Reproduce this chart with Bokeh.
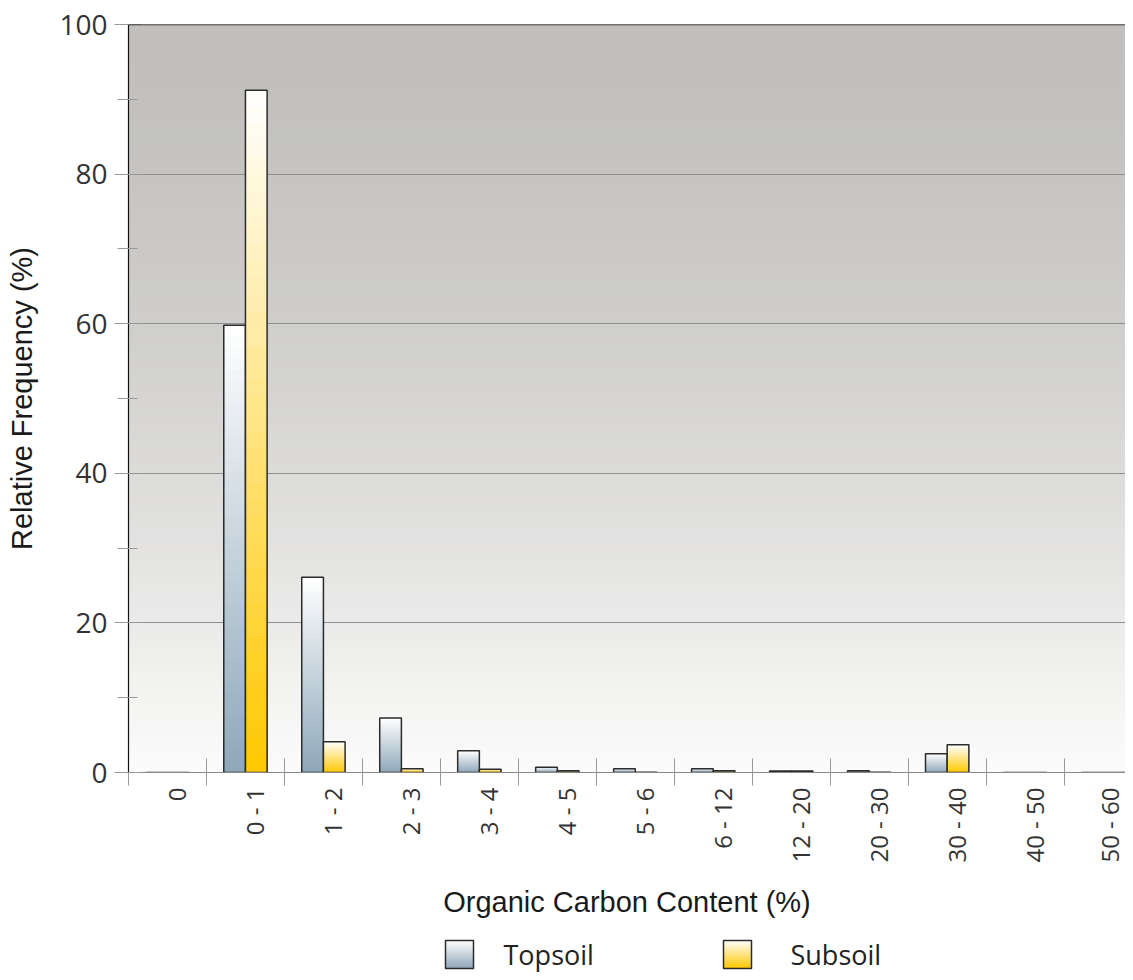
import numpy as np
from bokeh.plotting import figure
from bokeh.layouts import column
from bokeh.models import Range1d, FixedTicker, Span
from bokeh.core.properties import value
from bokeh.embed import file_html
from bokeh.resources import INLINE

# ---- data ----
categories = ["0", "0 - 1", "1 - 2", "2 - 3", "3 - 4", "4 - 5", "5 - 6",
              "6 - 12", "12 - 20", "20 - 30", "30 - 40", "40 - 50", "50 - 60"]
topsoil = [0.0, 59.8, 26.1, 7.3, 2.9, 0.7, 0.5, 0.5, 0.2, 0.25, 2.5, 0.0, 0.0]
subsoil = [0.0, 91.2, 4.1, 0.5, 0.45, 0.25, 0.05, 0.25, 0.2, 0.05, 3.7, 0.0, 0.0]
series_names = ["Topsoil", "Subsoil"]
y_ticks = [0, 20, 40, 60, 80, 100]
y_minor = [10, 30, 50, 70, 90]

# ---- styling / layout constants ----
TOP_BASE = "#8ea7b9"
SUB_BASE = "#ffc800"
WHITE = "#ffffff"
BG_TOP = "#c0bfbd"
BG_BOT = "#fcfcfc"
OUTLINE = "#2b2b2b"
FIG_W = 1125
MAIN_H = 920
LEG_H = 52
LEFT = 128
TOP = 24
FRAME_BOTTOM = 772
CAT_PX = 77.97
BAR_W = 0.278
LABEL_SHIFT = 0.115
TICK_FONT = "Open Sans"
TITLE_FONT = "Liberation Sans"
LEG_SWATCH_X = [445, 723]
LEG_TEXT_X = [503, 790]
LEG_SWATCH_W = 28
LEG_SWATCH_BOTTOM = 4
LEG_TEXT_Y = 18


def hex2rgb(h):
    h = h.lstrip("#")
    return tuple(int(h[i:i + 2], 16) for i in (0, 2, 4))


def mix(c1, c2, t):
    a, b = hex2rgb(c1), hex2rgb(c2)
    return "#%02x%02x%02x" % tuple(int(round(x + (y - x) * t)) for x, y in zip(a, b))


n = len(categories)
centers = np.arange(n) + 0.5

p = figure(width=FIG_W, height=MAIN_H,
           x_range=Range1d(0, (FIG_W - LEFT) / CAT_PX), y_range=Range1d(0, 100),
           output_backend="svg", toolbar_location=None,
           min_border_left=LEFT, min_border_right=0,
           min_border_top=TOP, min_border_bottom=MAIN_H - FRAME_BOTTOM)
p.outline_line_color = None
p.background_fill_color = WHITE
p.border_fill_color = WHITE

# ---- background gradient (layered bands) ----
NB = 90
for j in range(NB):
    lo = 100.0 * j / NB
    t_from_top = 1.0 - (j + 0.5) / NB
    col = mix(BG_TOP, BG_BOT, t_from_top ** 1.5)
    p.quad(left=0, right=n, bottom=lo, top=100, fill_color=col,
           line_color=None, level="image")

# ---- gradient bars ----
NL = 40


def gradient_quads(fig, left, right, bottom, top, base, nl):
    left = np.asarray(left, dtype=float)
    right = np.asarray(right, dtype=float)
    bottom = np.asarray(bottom, dtype=float)
    top = np.asarray(top, dtype=float)
    for i in range(nl):
        frac = (nl - i) / nl
        t = (nl - i - 0.5) / nl
        fig.quad(left=left, right=right, bottom=bottom,
                 top=bottom + (top - bottom) * frac,
                 fill_color=mix(base, WHITE, t), line_color=None)
    fig.quad(left=left, right=right, bottom=bottom, top=top,
             fill_color=None, line_color=OUTLINE, line_width=1.5)


zeros = np.zeros(n)
gradient_quads(p, centers - BAR_W, centers, zeros, topsoil, TOP_BASE, NL)
gradient_quads(p, centers, centers + BAR_W, zeros, subsoil, SUB_BASE, NL)

p.add_layout(Span(location=100, dimension="width", line_color="#222222",
                  line_width=1.5))

# ---- grid ----
p.xgrid.visible = False
p.ygrid.ticker = FixedTicker(ticks=y_ticks)
p.ygrid.grid_line_color = "#8f8f8f"
p.ygrid.grid_line_width = 1

# ---- y axis ----
ya = p.yaxis[0]
ya.ticker = FixedTicker(ticks=y_ticks, minor_ticks=y_minor)
ya.axis_line_color = "#111111"
ya.axis_line_width = 1.2
ya.major_tick_line_color = "#999999"
ya.major_tick_out = 14
ya.major_tick_in = 13
ya.minor_tick_line_color = "#999999"
ya.minor_tick_out = 11
ya.minor_tick_in = 9
ya.major_label_standoff = 7
ya.major_label_text_font = TICK_FONT
ya.major_label_text_font_size = "28px"
ya.major_label_text_color = "#333333"
ya.axis_label = "Relative Frequency (%)"
ya.axis_label_text_font = TITLE_FONT
ya.axis_label_text_font_style = "normal"
ya.axis_label_text_font_size = "29px"
ya.axis_label_text_color = "#1a1a1a"
ya.axis_label_standoff = 18

# ---- x axis ----
label_pos = [float(c + LABEL_SHIFT) for c in centers]
xa = p.xaxis[0]
xa.ticker = FixedTicker(ticks=label_pos, minor_ticks=list(range(n + 1)))
xa.major_label_overrides = {pos: cat for pos, cat in zip(label_pos, categories)}
xa.major_label_orientation = np.pi / 2
xa.axis_line_color = "#888888"
xa.major_tick_line_color = None
xa.major_tick_out = 13
xa.major_tick_in = 0
xa.minor_tick_line_color = "#999999"
xa.minor_tick_out = 13
xa.minor_tick_in = 14
xa.major_label_standoff = 2
xa.major_label_text_font = TICK_FONT
xa.major_label_text_font_size = "24px"
xa.major_label_text_color = "#333333"
xa.axis_label = "Organic Carbon Content (%)"
xa.axis_label_text_font = TITLE_FONT
xa.axis_label_text_font_style = "normal"
xa.axis_label_text_font_size = "29px"
xa.axis_label_text_color = "#1a1a1a"
xa.axis_label_standoff = 20

# ---- legend strip (separate figure below, gradient swatches) ----
# its frame is aligned with the main frame, so x range starts at LEFT (page px)
lg = figure(width=FIG_W, height=LEG_H, x_range=Range1d(LEFT, FIG_W),
            y_range=Range1d(0, LEG_H), output_backend="svg",
            toolbar_location=None, x_axis_location=None, y_axis_location=None,
            min_border_left=LEFT, min_border_right=0, min_border_top=0,
            min_border_bottom=0)
lg.outline_line_color = None
lg.xgrid.visible = False
lg.ygrid.visible = False
lg.background_fill_color = WHITE
lg.border_fill_color = WHITE
for sx, base in zip(LEG_SWATCH_X, [TOP_BASE, SUB_BASE]):
    gradient_quads(lg, [sx], [sx + LEG_SWATCH_W], [LEG_SWATCH_BOTTOM],
                   [LEG_SWATCH_BOTTOM + LEG_SWATCH_W], base, 20)
lg.text(x=LEG_TEXT_X, y=[LEG_TEXT_Y] * 2, text=series_names,
        text_font=value(TICK_FONT), text_font_size="27px",
        text_color="#222222", text_baseline="middle", text_align="left")

layout = column(p, lg, spacing=0)
open("out.html", "w").write(file_html(layout, INLINE))
